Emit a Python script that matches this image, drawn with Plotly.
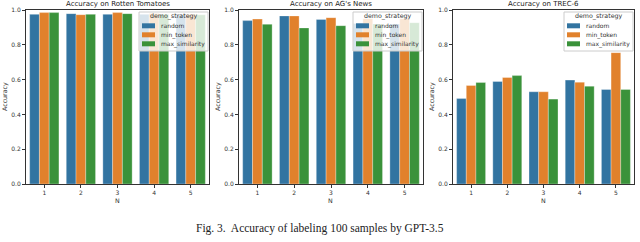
import plotly.graph_objects as go

N = [1, 2, 3, 4, 5]
strategies = ["random", "min_token", "max_similarity"]
colors = ["#3274a1", "#e1812c", "#3a923a"]

rt_random = [0.975, 0.979, 0.975, 0.975, 0.972]
rt_min_token = [0.985, 0.973, 0.985, 0.980, 0.975]
rt_max_sim = [0.985, 0.975, 0.979, 0.975, 0.972]

ag_random = [0.939, 0.966, 0.946, 0.922, 0.920]
ag_min_token = [0.948, 0.966, 0.956, 0.950, 0.950]
ag_max_sim = [0.918, 0.897, 0.910, 0.920, 0.927]

trec_random = [0.491, 0.589, 0.530, 0.597, 0.543]
trec_min_token = [0.566, 0.612, 0.530, 0.585, 0.755]
trec_max_sim = [0.583, 0.623, 0.488, 0.562, 0.543]

titles = ["Accuracy on Rotten Tomatoes", "Accuracy on AG's News", "Accuracy on TREC-6"]
panels = [
    [rt_random, rt_min_token, rt_max_sim],
    [ag_random, ag_min_token, ag_max_sim],
    [trec_random, trec_min_token, trec_max_sim],
]
y_ticks = [0.0, 0.2, 0.4, 0.6, 0.8, 1.0]
legend_title = "demo_strategy"
caption = "Fig. 3.  Accuracy of labeling 100 samples by GPT-3.5"

W, H = 640, 242
px_x = [(26, 209), (239, 423), (453, 634)]
top_px, bot_px = 10, 184


def px(xp):
    return xp / W


def py(yp):
    return 1 - yp / H


fig = go.Figure()
layout = dict(
    width=W, height=H,
    margin=dict(l=0, r=0, t=0, b=0, autoexpand=False),
    paper_bgcolor="white", plot_bgcolor="white",
    barmode="group", bargap=0.2, bargroupgap=0.0,
    font=dict(family="DejaVu Sans", size=6, color="#333"),
    showlegend=False,
    annotations=[], shapes=[],
)

for i, (vals, title) in enumerate(zip(panels, titles)):
    xa = "x" if i == 0 else f"x{i+1}"
    ya = "y" if i == 0 else f"y{i+1}"
    for s, v, c in zip(strategies, vals, colors):
        fig.add_trace(go.Bar(
            x=N, y=v, name=s,
            marker=dict(color=c, line=dict(width=0.5, color="rgba(255,255,255,0.6)")),
            xaxis=xa, yaxis=ya,
        ))
    L, R = px_x[i]
    x0, x1 = px(L), px(R)
    y0, y1 = py(bot_px), py(top_px)
    xkey = "xaxis" if i == 0 else f"xaxis{i+1}"
    ykey = "yaxis" if i == 0 else f"yaxis{i+1}"
    layout[xkey] = dict(
        domain=[x0, x1], anchor=ya, range=[0.5, 5.5], automargin=False,
        tickmode="array", tickvals=N, ticktext=[str(n) for n in N],
        ticks="outside", ticklen=3, tickcolor="#333", showgrid=False, zeroline=False,
        showline=True, linecolor="#333", linewidth=1, mirror=True,
        tickfont=dict(size=6),
    )
    layout[ykey] = dict(
        domain=[y0, y1], anchor=xa, range=[0, 1], automargin=False,
        tickmode="array", tickvals=y_ticks, ticktext=[f"{t:.1f}" for t in y_ticks],
        ticks="outside", ticklen=3, tickcolor="#333", showgrid=False, zeroline=False,
        showline=True, linecolor="#333", linewidth=1, mirror=True,
        tickfont=dict(size=6),
    )
    layout["annotations"].append(dict(
        text=title, x=(x0 + x1) / 2, y=py(3.5), xref="paper", yref="paper",
        xanchor="center", yanchor="middle", showarrow=False, font=dict(size=7, color="#222"),
    ))
    layout["annotations"].append(dict(
        text="N", x=(x0 + x1) / 2, y=py(200.5), xref="paper", yref="paper",
        xanchor="center", yanchor="middle", showarrow=False, font=dict(size=6.3, color="#333"),
    ))
    layout["annotations"].append(dict(
        text="Accuracy", x=px(L - 21), y=(y0 + y1) / 2, xref="paper", yref="paper",
        xanchor="center", yanchor="middle", showarrow=False, textangle=-90,
        font=dict(size=6.3, color="#333"),
    ))
    bl, br = R - 70, R - 1
    layout["shapes"].append(dict(
        type="rect", xref="paper", yref="paper", x0=px(bl), x1=px(br), y0=py(51), y1=py(12),
        fillcolor="rgba(255,255,255,0.8)", line=dict(color="#cccccc", width=1), layer="above",
    ))
    layout["annotations"].append(dict(
        text=legend_title, x=px((bl + br) / 2), y=py(16.5), xref="paper", yref="paper",
        xanchor="center", yanchor="middle", showarrow=False, font=dict(size=6.3, color="#333"),
    ))
    for k, (s, c) in enumerate(zip(strategies, colors)):
        yc = 25.8 + 9 * k
        layout["shapes"].append(dict(
            type="rect", xref="paper", yref="paper", x0=px(bl + 3), x1=px(bl + 16),
            y0=py(yc + 2.5), y1=py(yc - 2.5), fillcolor=c, line=dict(width=0), layer="above",
        ))
        layout["annotations"].append(dict(
            text=s, x=px(bl + 20), y=py(yc), xref="paper", yref="paper",
            xanchor="left", yanchor="middle", showarrow=False, font=dict(size=6, color="#333"),
        ))

layout["annotations"].append(dict(
    text=caption, x=0.5, y=py(228), xref="paper", yref="paper",
    xanchor="center", yanchor="middle", showarrow=False,
    font=dict(family="Liberation Serif", size=11.5, color="#222"),
))

fig.update_layout(**layout)
fig.write_html(
    "out.html",
    config={"displayModeBar": False},
    post_script="document.body.style.margin='0';document.body.style.padding='0';",
)
